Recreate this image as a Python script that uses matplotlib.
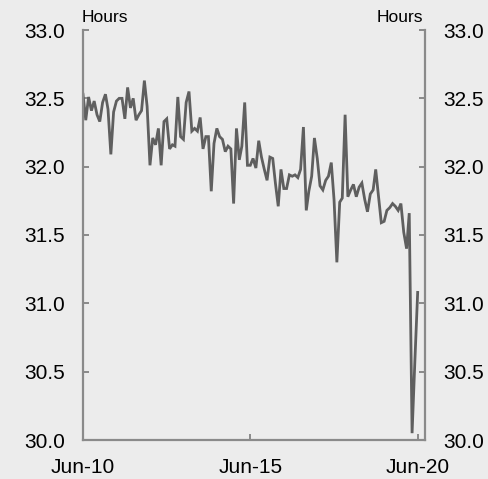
"""
Average weekly hours worked, monthly, Jun-10 to Jun-20.
"""
import pandas as pd
import matplotlib.pyplot as plt
import matplotlib.dates as mdates

plt.rcParams["font.family"] = ["Liberation Sans", "DejaVu Sans"]

BG = "#ececec"
LINE_COLOR = "#5f5f5f"
AXIS_COLOR = "#8a8a8a"

START = "2010-06-01"
HOURS = [
    32.53, 32.34, 32.51, 32.41, 32.48, 32.38, 32.33, 32.47, 32.53, 32.42,
    32.09, 32.40, 32.48, 32.50, 32.50, 32.35, 32.58, 32.43, 32.50, 32.34,
    32.38, 32.41, 32.63, 32.44, 32.01, 32.21, 32.16, 32.28, 32.01, 32.33,
    32.35, 32.13, 32.16, 32.15, 32.51, 32.22, 32.20, 32.47, 32.55, 32.26,
    32.28, 32.26, 32.36, 32.13, 32.22, 32.22, 31.82, 32.17, 32.28, 32.22,
    32.20, 32.11, 32.15, 32.13, 31.73, 32.28, 32.05, 32.15, 32.47, 32.01,
    32.01, 32.06, 31.99, 32.19, 32.07, 31.98, 31.90, 32.07, 32.06, 31.88,
    31.71, 31.98, 31.84, 31.84, 31.94, 31.93, 31.94, 31.92, 31.98, 32.29,
    31.68, 31.82, 31.93, 32.21, 32.06, 31.86, 31.83, 31.90, 31.93, 32.03,
    31.76, 31.30, 31.74, 31.77, 32.38, 31.78, 31.83, 31.87, 31.78, 31.85,
    31.88, 31.76, 31.67, 31.80, 31.83, 31.98, 31.78, 31.59, 31.60, 31.68,
    31.70, 31.73, 31.71, 31.68, 31.73, 31.52, 31.40, 31.66, 30.05, 30.57,
    31.08,
]
Y_TICKS = [30.0, 30.5, 31.0, 31.5, 32.0, 32.5, 33.0]
X_TICKS = ["2010-06-01", "2015-06-01", "2020-06-01"]


def plot_hours():
    dates = pd.date_range(START, periods=len(HOURS), freq="MS")

    fig = plt.figure(figsize=(4.89, 4.79), dpi=100, facecolor=BG)
    ax = fig.add_axes([83 / 489, 1 - 440 / 479, 342 / 489, 410 / 479])
    ax.set_facecolor(BG)

    ax.plot(dates, HOURS, color=LINE_COLOR, lw=2.0, solid_joinstyle="miter")

    ax.set_ylim(30.0, 33.0)
    ax.set_yticks(Y_TICKS)
    ax.set_yticklabels([f"{v:.1f}" for v in Y_TICKS])
    ax.set_xlim(pd.Timestamp("2010-06-01"), pd.Timestamp("2020-08-20"))
    ax.set_xticks([pd.Timestamp(d) for d in X_TICKS])
    ax.xaxis.set_major_formatter(mdates.DateFormatter("%b-%y"))

    for side in ["left", "right", "bottom"]:
        ax.spines[side].set_color(AXIS_COLOR)
        ax.spines[side].set_linewidth(1.6)
    ax.spines["top"].set_visible(False)

    ax.tick_params(axis="y", direction="in", length=4, width=1.4, color=AXIS_COLOR,
                   left=True, right=True, labelleft=True, labelright=True,
                   labelsize=15, pad=13)
    ax.tick_params(axis="x", direction="in", length=4, width=1.4, color=AXIS_COLOR,
                   labelsize=15, pad=13)

    fig.text(82 / 489, 1 - 18 / 479, "Hours", fontsize=12.5, ha="left", va="center")
    fig.text(423 / 489, 1 - 18 / 479, "Hours", fontsize=12.5, ha="right", va="center")

    fig.savefig("out.png", dpi=100, facecolor=BG)
    plt.close(fig)


if __name__ == "__main__":
    plot_hours()
